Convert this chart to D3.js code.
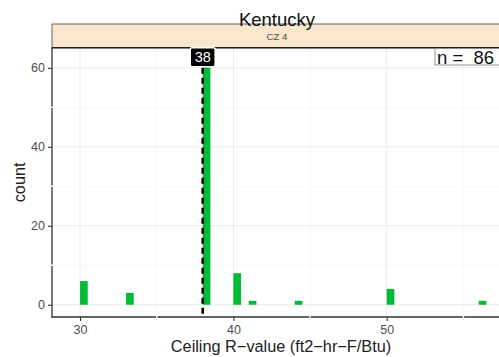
<!DOCTYPE html>
<html>
<head>
<meta charset="utf-8">
<script src="https://cdn.jsdelivr.net/npm/d3@7"></script>
<style>
  html, body { margin: 0; padding: 0; background: #fff; }
  svg { display: block; font-family: "Liberation Sans", Arial, sans-serif; }
</style>
</head>
<body>
<svg id="chart" width="499" height="357"></svg>
<script>
// Ceiling R-value histogram, Kentucky, climate zone 4
const rValues = [30, 33, 38, 40, 41, 44, 50, 56];
const counts  = [6, 3, 62, 8, 1, 1, 4, 1];
const xTicks = [30, 40, 50];
const yTicks = [0, 20, 40, 60];
const xMinor = [35, 45, 55];
const yMinor = [10, 30, 50];
const medianValue = 38;
const totalN = 86;
const stateName = "Kentucky";
const zoneName = "CZ 4";
const binWidth = 0.5;

const svg = d3.select("#chart");
const panel = { left: 52, right: 502, top: 47.7, bottom: 317 };
const strip = { top: 24, bottom: 47.7 };

const x = d3.scaleLinear().domain([28.17, 57.52]).range([panel.left, panel.right]);
const y = d3.scaleLinear().domain([-3.1, 65.1]).range([panel.bottom, panel.top]);

// panel background + grid
const g = svg.append("g");
g.append("rect").attr("x", panel.left).attr("y", panel.top)
  .attr("width", panel.right - panel.left).attr("height", panel.bottom - panel.top)
  .attr("fill", "#fff");

g.selectAll(".gx-minor").data(xMinor).enter().append("line")
  .attr("x1", d => x(d)).attr("x2", d => x(d))
  .attr("y1", panel.top).attr("y2", panel.bottom)
  .attr("stroke", "#f4f4f4").attr("stroke-width", 0.6);
g.selectAll(".gy-minor").data(yMinor).enter().append("line")
  .attr("y1", d => y(d)).attr("y2", d => y(d))
  .attr("x1", panel.left).attr("x2", panel.right)
  .attr("stroke", "#f4f4f4").attr("stroke-width", 0.6);
g.selectAll(".gx").data(xTicks).enter().append("line")
  .attr("x1", d => x(d)).attr("x2", d => x(d))
  .attr("y1", panel.top).attr("y2", panel.bottom)
  .attr("stroke", "#ebebeb").attr("stroke-width", 1);
g.selectAll(".gy").data(yTicks).enter().append("line")
  .attr("y1", d => y(d)).attr("y2", d => y(d))
  .attr("x1", panel.left).attr("x2", panel.right)
  .attr("stroke", "#ebebeb").attr("stroke-width", 1);

// bars
const data = rValues.map((v, i) => ({ v, c: counts[i] }));
g.selectAll(".bar").data(data).enter().append("rect")
  .attr("x", d => x(d.v))
  .attr("width", d => x(d.v + binWidth) - x(d.v))
  .attr("y", d => y(d.c))
  .attr("height", d => y(0) - y(d.c))
  .attr("fill", "#00BA38");

// median dashed line
g.append("line")
  .attr("x1", x(medianValue)).attr("x2", x(medianValue))
  .attr("y1", panel.top).attr("y2", panel.bottom)
  .attr("stroke", "#000").attr("stroke-width", 2.6)
  .attr("stroke-dasharray", "6,4");

// axes
const xAxis = d3.axisBottom(x).tickValues(xTicks).tickSize(4).tickPadding(4);
const yAxis = d3.axisLeft(y).tickValues(yTicks).tickSize(4).tickPadding(3);

const gx = svg.append("g").attr("transform", `translate(0,${panel.bottom})`).call(xAxis);
gx.select(".domain").remove();
gx.selectAll(".tick line").attr("stroke", "#333").attr("stroke-width", 1.1);
gx.selectAll("text").attr("fill", "#4d4d4d").attr("font-size", 12.5);

const gy = svg.append("g").attr("transform", `translate(${panel.left},0)`).call(yAxis);
gy.select(".domain").remove();
gy.selectAll(".tick line").attr("stroke", "#333").attr("stroke-width", 1.1);
gy.selectAll("text").attr("fill", "#4d4d4d").attr("font-size", 12.5);

// axis lines
svg.append("line").attr("x1", panel.left).attr("x2", panel.left)
  .attr("y1", panel.top).attr("y2", panel.bottom + 0.6)
  .attr("stroke", "#333").attr("stroke-width", 1.3);
svg.append("line").attr("x1", panel.left - 0.6).attr("x2", panel.right)
  .attr("y1", panel.bottom).attr("y2", panel.bottom)
  .attr("stroke", "#333").attr("stroke-width", 1.3);

// minor grid lines drawn across the axis lines
svg.selectAll(".xbreak").data(xMinor).enter().append("line")
  .attr("x1", d => x(d)).attr("x2", d => x(d))
  .attr("y1", panel.bottom - 1).attr("y2", panel.bottom + 1)
  .attr("stroke", "#fff").attr("stroke-width", 1.4);
svg.selectAll(".ybreak").data(yMinor).enter().append("line")
  .attr("y1", d => y(d)).attr("y2", d => y(d))
  .attr("x1", panel.left - 1).attr("x2", panel.left + 1)
  .attr("stroke", "#fff").attr("stroke-width", 1.4);

// facet strip
svg.append("rect").attr("x", panel.left).attr("y", strip.top)
  .attr("width", panel.right - panel.left).attr("height", strip.bottom - strip.top)
  .attr("fill", "#F9E6CC").attr("stroke", "#555").attr("stroke-width", 0.9);
svg.append("line").attr("x1", panel.left).attr("x2", panel.right)
  .attr("y1", strip.bottom).attr("y2", strip.bottom)
  .attr("stroke", "#222").attr("stroke-width", 1.4);
svg.append("text").attr("x", (panel.left + panel.right) / 2).attr("y", 39.5)
  .attr("text-anchor", "middle").attr("font-size", 9.7).attr("fill", "#4d4d4d")
  .text(zoneName);

// title
svg.append("text").attr("x", 277).attr("y", 26)
  .attr("text-anchor", "middle").attr("font-size", 18.5).attr("fill", "#111")
  .text(stateName);

// median label
const lblY = y(62.7);
const lbl = svg.append("g").attr("transform", `translate(${x(medianValue)},${lblY})`);
lbl.append("rect").attr("x", -12.5).attr("y", -9.5).attr("width", 25).attr("height", 19)
  .attr("rx", 2).attr("fill", "#000").attr("stroke", "#fff").attr("stroke-width", 1.6);
lbl.append("text").attr("x", 0).attr("y", 5.3).attr("text-anchor", "middle")
  .attr("font-size", 14.5).attr("fill", "#fff").text(String(medianValue));

// sample size label
const nG = svg.append("g");
nG.append("rect").attr("x", 435).attr("y", 48.5).attr("width", 80).attr("height", 16.5)
  .attr("fill", "#fff").attr("stroke", "#888").attr("stroke-width", 0.9);
nG.append("text").attr("x", 437).attr("y", 63.5).attr("font-size", 18.5).attr("fill", "#111")
  .attr("xml:space", "preserve").style("white-space", "pre")
  .text("n =  " + totalN);

// axis titles
svg.append("text").attr("x", 281).attr("y", 352)
  .attr("text-anchor", "middle").attr("font-size", 16.3).attr("fill", "#222")
  .text("Ceiling R\u2212value (ft2\u2212hr\u2212F/Btu)");
svg.append("text").attr("transform", `translate(25,${(panel.top + panel.bottom) / 2}) rotate(-90)`)
  .attr("text-anchor", "middle").attr("font-size", 16.3).attr("fill", "#222")
  .text("count");
</script>
</body>
</html>
